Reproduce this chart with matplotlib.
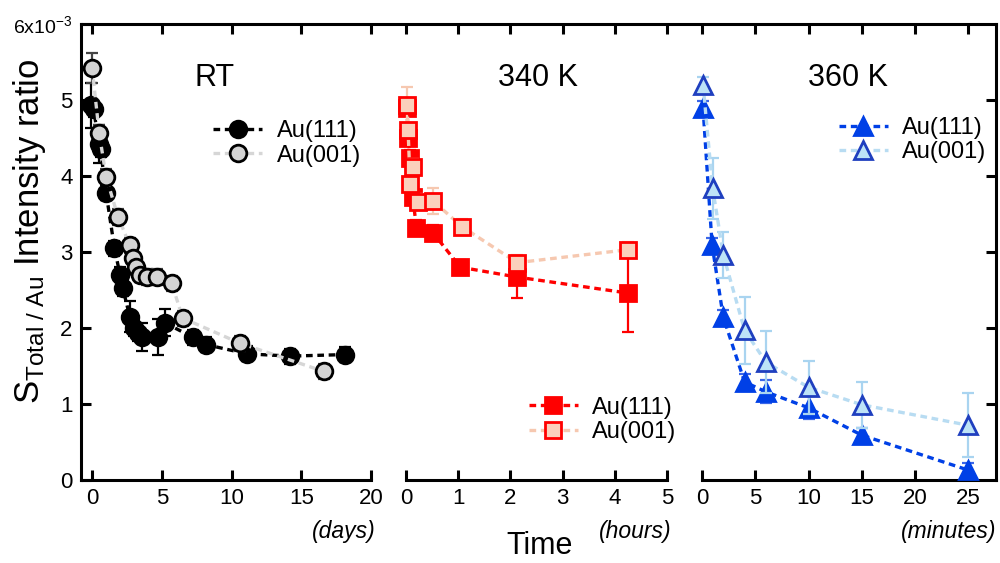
import numpy as np
import matplotlib
matplotlib.use('Agg')
import matplotlib.pyplot as plt
import matplotlib.lines as lines

plt.rcParams['font.family'] = ['Liberation Sans', 'DejaVu Sans']
plt.rcParams['mathtext.fontset'] = 'custom'
plt.rcParams['mathtext.rm'] = 'Liberation Sans'
plt.rcParams['mathtext.it'] = 'Liberation Sans:italic'
plt.rcParams['mathtext.bf'] = 'Liberation Sans:bold'

# RT data (days), values in units of 1e-3
rt111_x = [-0.1, 0.1, 0.5, 0.6, 1.0, 1.6, 2.0, 2.2, 2.7, 3.0, 3.3, 3.6, 4.7, 5.2, 7.2, 8.2, 11.1, 14.2, 18.1]
rt111_y = [4.93, 4.88, 4.42, 4.35, 3.78, 3.05, 2.70, 2.52, 2.15, 2.00, 1.93, 1.88, 1.88, 2.07, 1.88, 1.78, 1.66, 1.63, 1.65]
rt111_e = [0.30, 0.10, 0.25, 0.10, 0.10, 0.10, 0.10, 0.10, 0.20, 0.10, 0.10, 0.18, 0.24, 0.18, 0.10, 0.10, 0.10, 0.10, 0.10]
rt001_x = [0.0, 0.5, 1.0, 1.86, 2.7, 2.95, 3.15, 3.4, 3.9, 4.65, 5.7, 6.5, 10.6, 16.6]
rt001_y = [5.42, 4.57, 3.99, 3.46, 3.09, 2.92, 2.80, 2.70, 2.67, 2.67, 2.59, 2.13, 1.80, 1.43]
rt001_e = [0.20, 0.10, 0.10, 0.10, 0.10, 0.10, 0.10, 0.10, 0.10, 0.10, 0.10, 0.10, 0.10, 0.10]

# 340 K data (hours)
k340_111_x = [0.02, 0.04, 0.08, 0.13, 0.2, 0.52, 1.04, 2.13, 4.25]
k340_111_y = [4.90, 4.50, 4.24, 3.72, 3.32, 3.25, 2.80, 2.67, 2.46]
k340_111_e = [0.10, 0.10, 0.10, 0.10, 0.10, 0.10, 0.10, 0.28, 0.51]
k340_001_x = [0.02, 0.04, 0.08, 0.13, 0.23, 0.52, 1.08, 2.13, 4.25]
k340_001_y = [4.93, 4.60, 3.90, 4.12, 3.66, 3.67, 3.33, 2.86, 3.03]
k340_001_e = [0.24, 0.10, 0.10, 0.10, 0.10, 0.17, 0.10, 0.10, 0.10]

# 360 K data (minutes)
k360_111_x = [0.1, 0.95, 2, 4, 6, 10, 15, 25]
k360_111_y = [4.89, 3.09, 2.14, 1.29, 1.16, 0.95, 0.59, 0.13]
k360_111_e = [0.10, 0.10, 0.10, 0.10, 0.15, 0.15, 0.10, 0.10]
k360_001_x = [0.1, 1, 2, 4, 6, 10, 15, 25]
k360_001_y = [5.20, 3.84, 2.96, 1.97, 1.55, 1.22, 0.99, 0.72]
k360_001_e = [0.10, 0.40, 0.30, 0.44, 0.41, 0.35, 0.30, 0.42]

dash = (0, (2.0, 1.4))
lw = 2.4
slw = 2.2

fig = plt.figure(figsize=(10, 5.63), dpi=100)
bot = 1 - 480 / 563.
hgt = (480 - 24) / 563.
ax1 = fig.add_axes([0.081, bot, 0.290, hgt])
ax2 = fig.add_axes([0.406, bot, 0.261, hgt])
ax3 = fig.add_axes([0.702, bot, 0.294, hgt])


def series(ax, x, y, e, marker, ms, face, edge, lcolor, ecolor, label, z):
    ax.errorbar(x, y, yerr=e, fmt='none', ecolor=ecolor, elinewidth=1.6,
                capsize=4.5, capthick=1.6, zorder=z, clip_on=False)
    ax.plot(x, y, linestyle=dash, color=lcolor, lw=lw, marker=marker, ms=ms,
            mfc=face, mec=edge, mew=2.0, label=label, zorder=z + 0.5, clip_on=False)


series(ax1, rt111_x, rt111_y, rt111_e, 'o', 12, 'black', 'black', 'black', 'black', 'Au(111)', 3)
series(ax1, rt001_x, rt001_y, rt001_e, 'o', 12, '#d4d4d4', 'black', '#d6d6d6', '#444444', 'Au(001)', 4)
series(ax2, k340_111_x, k340_111_y, k340_111_e, 's', 11.5, '#ff0000', '#ff0000', '#ff0000', '#ff0000', 'Au(111)', 3)
series(ax2, k340_001_x, k340_001_y, k340_001_e, 's', 11.5, '#fbd0bc', '#ff0000', '#f6c8b0', '#f6c8b0', 'Au(001)', 4)
series(ax3, k360_111_x, k360_111_y, k360_111_e, '^', 13, '#0040e6', '#0040e6', '#0040e6', '#3a66e8', 'Au(111)', 3)
series(ax3, k360_001_x, k360_001_y, k360_001_e, '^', 13, '#bde3f7', '#1f3fbf', '#b8dcf2', '#a9d4f0', 'Au(001)', 4)

ax1.set_xlim(-0.8, 20)
ax2.set_xlim(0, 5)
ax3.set_xlim(0, 27.6)
ax1.set_xticks([0, 5, 10, 15, 20])
ax2.set_xticks([0, 1, 2, 3, 4, 5])
ax3.set_xticks([0, 5, 10, 15, 20, 25])

for ax in (ax1, ax2, ax3):
    ax.set_ylim(0, 6)
    ax.patch.set_visible(False)
    for s in ax.spines.values():
        s.set_linewidth(slw)
        s.set_visible(False)
    ax.spines['bottom'].set_visible(True)
    ax.tick_params(axis='x', which='both', direction='in', length=7.5, width=slw,
                   top=True, labelsize=16, pad=6)
    ax.tick_params(axis='y', direction='in', length=7.5, width=slw, left=False,
                   labelleft=False, labelsize=16)

ax1.spines['left'].set_visible(True)
ax1.set_yticks([0, 1, 2, 3, 4, 5, 6])
ax1.set_yticklabels(['0', '1', '2', '3', '4', '5', r'6x10$^{-3}$'])
ax1.tick_params(axis='y', left=True, labelleft=True, pad=6)
ax1.get_yticklabels()[-1].set_fontsize(14)
ax3.spines['right'].set_visible(True)
ax3.set_yticks([1, 2, 3, 4, 5])
ax3.tick_params(axis='y', right=True, left=False)

# top frame line running across all panels
p1 = ax1.get_position()
p3 = ax3.get_position()
fig.add_artist(lines.Line2D([p1.x0, p3.x1], [p1.y1, p1.y1], transform=fig.transFigure,
                            color='black', lw=slw, solid_capstyle='projecting'))

# panel titles
ax1.text(0.462, 0.882, 'RT', transform=ax1.transAxes, ha='center', va='center', fontsize=22)
ax2.text(0.506, 0.882, '340 K', transform=ax2.transAxes, ha='center', va='center', fontsize=22)
ax3.text(0.497, 0.882, '360 K', transform=ax3.transAxes, ha='center', va='center', fontsize=22)

# units
ax1.text(1.017, -0.114, '(days)', transform=ax1.transAxes, ha='right', va='center', style='italic', fontsize=16.5)
ax2.text(1.019, -0.114, '(hours)', transform=ax2.transAxes, ha='right', va='center', style='italic', fontsize=16.5)
ax3.text(1.003, -0.114, '(minutes)', transform=ax3.transAxes, ha='right', va='center', style='italic', fontsize=16.5)

leg_kw = dict(frameon=False, fontsize=17, handlelength=2.1, handletextpad=0.6,
              labelspacing=0.1, borderpad=0, loc='center')
ax1.legend(bbox_to_anchor=(0.71, 0.738), **leg_kw)
ax2.legend(bbox_to_anchor=(0.753, 0.132), **leg_kw)
ax3.legend(bbox_to_anchor=(0.716, 0.745), **leg_kw)

fig.text(0.03, 0.59, r'S$_{\mathrm{Total\ /\ Au}}$ Intensity ratio', rotation=90,
         ha='center', va='center', fontsize=25)
fig.text(0.54, 0.03, 'Time', ha='center', va='center', fontsize=22)

plt.savefig('out.png', dpi=100)
